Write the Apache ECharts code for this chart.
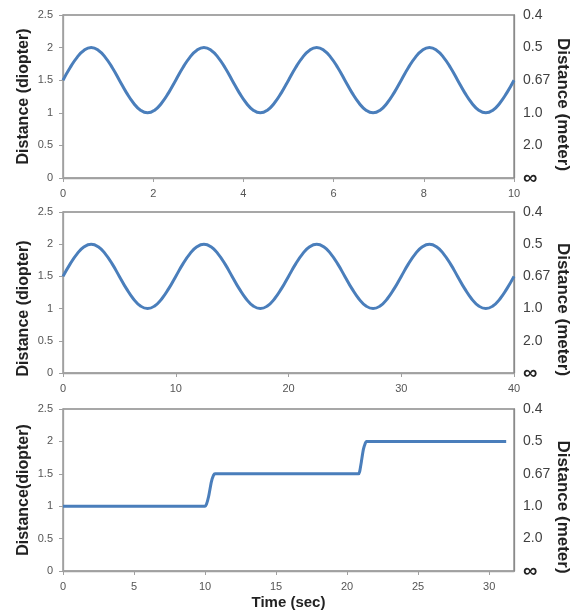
<!DOCTYPE html>
<html>
<head>
<meta charset="utf-8">
<script src="https://cdn.jsdelivr.net/npm/echarts@6/dist/echarts.min.js"></script>
<style>html,body{margin:0;padding:0;background:#fff;overflow:hidden}#c{width:574px;height:613px}</style>
</head>
<body>
<div id="c"></div>
<script>
// Panel 1: 0.4 Hz sinusoid (0-10 s)
var time1 = [0,0.15625,0.3125,0.46875,0.625,0.78125,0.9375,1.09375,1.25,1.40625,1.5625,1.71875,1.875,2.03125,2.1875,2.34375,
  2.5,2.65625,2.8125,2.96875,3.125,3.28125,3.4375,3.59375,3.75,3.90625,4.0625,4.21875,4.375,4.53125,4.6875,4.84375,
  5,5.15625,5.3125,5.46875,5.625,5.78125,5.9375,6.09375,6.25,6.40625,6.5625,6.71875,6.875,7.03125,7.1875,7.34375,
  7.5,7.65625,7.8125,7.96875,8.125,8.28125,8.4375,8.59375,8.75,8.90625,9.0625,9.21875,9.375,9.53125,9.6875,9.84375,10];
var dist1 = [1.5,1.69,1.85,1.96,2.0,1.96,1.85,1.69,1.5,1.31,1.15,1.04,1.0,1.04,1.15,1.31,
  1.5,1.69,1.85,1.96,2.0,1.96,1.85,1.69,1.5,1.31,1.15,1.04,1.0,1.04,1.15,1.31,
  1.5,1.69,1.85,1.96,2.0,1.96,1.85,1.69,1.5,1.31,1.15,1.04,1.0,1.04,1.15,1.31,
  1.5,1.69,1.85,1.96,2.0,1.96,1.85,1.69,1.5,1.31,1.15,1.04,1.0,1.04,1.15,1.31,1.5];
// Panel 2: 0.1 Hz sinusoid (0-40 s)
var time2 = [0,0.625,1.25,1.875,2.5,3.125,3.75,4.375,5,5.625,6.25,6.875,7.5,8.125,8.75,9.375,
  10,10.625,11.25,11.875,12.5,13.125,13.75,14.375,15,15.625,16.25,16.875,17.5,18.125,18.75,19.375,
  20,20.625,21.25,21.875,22.5,23.125,23.75,24.375,25,25.625,26.25,26.875,27.5,28.125,28.75,29.375,
  30,30.625,31.25,31.875,32.5,33.125,33.75,34.375,35,35.625,36.25,36.875,37.5,38.125,38.75,39.375,40];
var dist2 = [1.5,1.69,1.85,1.96,2.0,1.96,1.85,1.69,1.5,1.31,1.15,1.04,1.0,1.04,1.15,1.31,
  1.5,1.69,1.85,1.96,2.0,1.96,1.85,1.69,1.5,1.31,1.15,1.04,1.0,1.04,1.15,1.31,
  1.5,1.69,1.85,1.96,2.0,1.96,1.85,1.69,1.5,1.31,1.15,1.04,1.0,1.04,1.15,1.31,
  1.5,1.69,1.85,1.96,2.0,1.96,1.85,1.69,1.5,1.31,1.15,1.04,1.0,1.04,1.15,1.31,1.5];
// Panel 3: step stimulus
var time3 = [0,10.0,10.1,10.25,10.45,10.6,10.7,20.8,20.88,21.0,21.15,21.28,21.35,31.2];
var dist3 = [1.0,1.0,1.03,1.15,1.38,1.48,1.5,1.5,1.53,1.68,1.88,1.97,2.0,2.0];

var leftTicks = ['0','0.5','1','1.5','2','2.5'];
var rightTicks = ['\u221E','2.0','1.0','0.67','0.5','0.4'];
var xMax = [10, 40, 31.75];
var xInterval = [2, 10, 5];
var leftNames = ['Distance (diopter)','Distance (diopter)','Distance(diopter)'];
var rightName = 'Distance (meter)';
var xName = 'Time (sec)';

var FONT = 'Liberation Sans';
var leftShift = [0, 32, 0];
var rightShift = [16, 34, 34];
var grids = [
  {left:63, right:60, top:15, height:163},
  {left:63, right:60, top:212, height:161},
  {left:63, right:60, top:409, height:162}
];
grids.forEach(function(g){ g.show = true; g.borderColor = '#8a8a8a'; g.borderWidth = 1.3; g.backgroundColor = 'transparent'; g.containLabel = false; g.outerBoundsMode = 'none'; });

function pairs(t, v){ return t.map(function(x,i){ return [x, v[i]]; }); }

var xAxes = [], yAxes = [], series = [];
for (var i = 0; i < 3; i++) {
  xAxes.push({
    type:'value', gridIndex:i, min:0, max:xMax[i], interval:xInterval[i],
    splitLine:{show:false},
    axisLine:{show:true, lineStyle:{color:'#a0a0a0', width:1.3}},
    axisTick:{show:true, length:4, lineStyle:{color:'#a0a0a0'}},
    axisLabel:{fontFamily:FONT, fontSize:11, color:'#555', margin:10, showMaxLabel: i !== 2},
    name: i === 2 ? xName : '', nameLocation:'middle', nameGap:24, nameMoveOverlap:false,
    nameTextStyle:{fontFamily:FONT, fontSize:15, fontWeight:'bold', color:'#222', verticalAlign:'top'}
  });
  yAxes.push({
    type:'value', gridIndex:i, position:'left', min:0, max:2.5, interval:0.5,
    splitLine:{show:false},
    axisLine:{show:true, lineStyle:{color:'#a0a0a0', width:1.3}},
    axisTick:{show:true, length:4, lineStyle:{color:'#a0a0a0'}},
    axisLabel:{fontFamily:FONT, fontSize:11, color:'#555', margin:10,
      formatter:function(v){ return leftTicks[Math.round(v/0.5)]; }},
    name:leftNames[i], nameLocation:'middle', nameRotate:90, nameGap:31, nameMoveOverlap:false,
    nameTextStyle:{fontFamily:FONT, fontSize:16, fontWeight:'bold', color:'#222', padding:[0, leftShift[i], 0, 0]}
  });
  yAxes.push({
    type:'value', gridIndex:i, position:'right', min:0, max:2.5, interval:0.5,
    splitLine:{show:false},
    axisLine:{show:true, lineStyle:{color:'#8a8a8a', width:1.3}},
    axisTick:{show:false},
    axisLabel:{fontFamily:FONT, fontSize:14, color:'#404040', margin:9,
      formatter:function(v){ var k = Math.round(v/0.5); return k === 0 ? '{inf|' + rightTicks[0] + '}' : rightTicks[k]; },
      rich:{inf:{fontFamily:FONT, fontSize:20, fontWeight:'bold', color:'#222'}}},
    name:rightName, nameLocation:'middle', nameRotate:-90, nameGap:40, nameMoveOverlap:false,
    nameTextStyle:{fontFamily:FONT, fontSize:17, fontWeight:'bold', color:'#222', padding:[0, 0, 0, rightShift[i]]}
  });
}
var sets = [pairs(time1,dist1), pairs(time2,dist2), pairs(time3,dist3)];
for (var j = 0; j < 3; j++) {
  series.push({
    type:'line', xAxisIndex:j, yAxisIndex:j*2, data:sets[j], smooth: j < 2 ? 0.5 : 0.2,
    showSymbol:false, lineStyle:{color:'#4a7ebb', width:3}, animation:false
  });
}

var chart = echarts.init(document.getElementById('c'), null, {renderer:'canvas'});
chart.setOption({
  animation:false,
  backgroundColor:'#fff',
  grid:grids, xAxis:xAxes, yAxis:yAxes, series:series
});
</script>
</body>
</html>
